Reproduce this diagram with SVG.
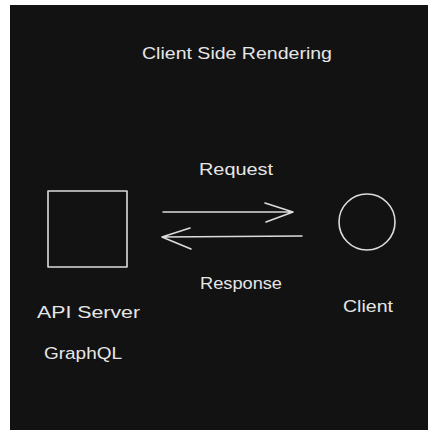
<svg xmlns="http://www.w3.org/2000/svg" width="428" height="430" viewBox="0 0 428 430">
<style>
.t{font-family:"Liberation Sans","DejaVu Sans",sans-serif;font-size:17px;fill:#e6e6e6}
.s{fill:none;stroke:#dcdcdc;stroke-width:1.6;stroke-linecap:round;stroke-linejoin:round}
</style>
<rect x="0" y="0" width="428" height="430" fill="#ffffff"/>
<rect x="10" y="5" width="418" height="425" fill="#121212"/>
<text class="t" x="142" y="59" textLength="190" lengthAdjust="spacingAndGlyphs">Client Side Rendering</text>
<g id="api-server">
<rect class="s" x="48" y="191" width="79" height="76"/>
<text class="t" x="37" y="318" textLength="103" lengthAdjust="spacingAndGlyphs">API Server</text>
<text class="t" x="44" y="359" textLength="78" lengthAdjust="spacingAndGlyphs">GraphQL</text>
</g>
<g id="client">
<circle class="s" cx="367" cy="222" r="28"/>
<text class="t" x="343" y="312" textLength="50" lengthAdjust="spacingAndGlyphs">Client</text>
</g>
<g id="connectors">
<path class="s" d="M163 212 L293 212 M265 203 L293 212 L266 222"/>
<text class="t" x="199" y="175" textLength="74" lengthAdjust="spacingAndGlyphs">Request</text>
<path class="s" d="M302 236 L162 237 M190 228 L162 237 L191 249"/>
<text class="t" x="200" y="289" textLength="82" lengthAdjust="spacingAndGlyphs">Response</text>
</g>
</svg>
